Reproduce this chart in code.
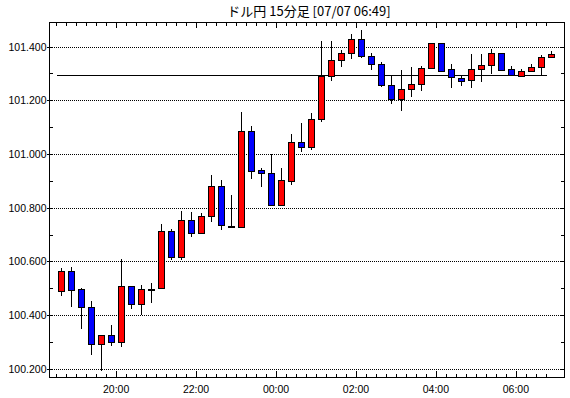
<body>
  <div id="chart"></div>
</body>

<script src="https://d3js.org/d3.v7.min.js"></script>
<script>
  // 15 minute candles, start time of each bar
  const times = [
    "18:30", "18:45", "19:00", "19:15", "19:30", "19:45", "20:00", "20:15", "20:30", "20:45",
    "21:00", "21:15", "21:30", "21:45", "22:00", "22:15", "22:30", "22:45", "23:00", "23:15",
    "23:30", "23:45", "00:00", "00:15", "00:30", "00:45", "01:00", "01:15", "01:30", "01:45",
    "02:00", "02:15", "02:30", "02:45", "03:00", "03:15", "03:30", "03:45", "04:00", "04:15",
    "04:30", "04:45", "05:00", "05:15", "05:30", "05:45", "06:00", "06:15", "06:30", "06:45"
  ];
  const open = [
    100.487, 100.563, 100.496, 100.429, 100.291, 100.324, 100.298, 100.507, 100.440, 100.498,
    100.499, 100.712, 100.614, 100.753, 100.703, 100.768, 100.879, 100.732, 100.731, 101.087,
    100.941, 100.931, 100.809, 100.900, 101.045, 101.027, 101.131, 101.291, 101.350, 101.376,
    101.429, 101.365, 101.336, 101.257, 101.205, 101.243, 101.263, 101.321, 101.415, 101.315,
    101.285, 101.274, 101.319, 101.333, 101.378, 101.315, 101.293, 101.310, 101.326, 101.363
  ];
  const high = [
    100.575, 100.579, 100.499, 100.452, 100.325, 100.363, 100.609, 100.509, 100.511, 100.518,
    100.739, 100.720, 100.788, 100.784, 100.779, 100.921, 100.903, 100.847, 101.155, 101.103,
    100.946, 100.999, 100.947, 101.073, 101.117, 101.151, 101.422, 101.422, 101.389, 101.447,
    101.462, 101.378, 101.343, 101.291, 101.313, 101.326, 101.327, 101.415, 101.415, 101.335,
    101.290, 101.372, 101.372, 101.390, 101.378, 101.327, 101.315, 101.335, 101.368, 101.383
  ];
  const low = [
    100.471, 100.429, 100.349, 100.252, 100.193, 100.286, 100.282, 100.424, 100.399, 100.443,
    100.499, 100.606, 100.606, 100.692, 100.703, 100.748, 100.718, 100.730, 100.731, 100.908,
    100.878, 100.809, 100.809, 100.884, 101.007, 101.016, 101.119, 101.271, 101.323, 101.353,
    101.358, 101.312, 101.249, 101.185, 101.159, 101.212, 101.236, 101.315, 101.309, 101.247,
    101.254, 101.247, 101.269, 101.299, 101.310, 101.293, 101.293, 101.310, 101.293, 101.358
  ];
  const close = [
    100.563, 100.494, 100.429, 100.291, 100.324, 100.298, 100.507, 100.440, 100.496, 100.498,
    100.712, 100.614, 100.753, 100.703, 100.768, 100.879, 100.733, 100.732, 101.087, 100.939,
    100.931, 100.812, 100.902, 101.045, 101.027, 101.131, 101.291, 101.350, 101.376, 101.429,
    101.365, 101.336, 101.257, 101.205, 101.243, 101.261, 101.322, 101.415, 101.312, 101.285,
    101.274, 101.315, 101.333, 101.378, 101.314, 101.293, 101.311, 101.326, 101.363, 101.374
  ];
  const yTickValues = [100.2, 100.4, 100.6, 100.8, 101.0, 101.2, 101.4];
  const xTickLabels = ["20:00", "22:00", "00:00", "02:00", "04:00", "06:00"];
  const refLevel = 101.293;
  const title = "ドル円 15分足 [07/07 06:49]";

  const width = 570;
  const height = 398;
  const margin = { top: 22.5, right: 5.5, bottom: 21, left: 49.5 };

  // times after midnight belong to the next day
  const toDate = s => {
    const [h, m] = s.split(":").map(Number);
    return new Date(2014, 6, h < 12 ? 7 : 6, h, m);
  };

  const candles = times.map((t, i) => ({
    start: toDate(t),
    mid: d3.timeMinute.offset(toDate(t), 7.5),
    o: open[i],
    h: high[i],
    l: low[i],
    c: close[i]
  }));

  const x = d3
    .scaleTime()
    .domain([new Date(2014, 6, 6, 18, 20), new Date(2014, 6, 7, 7, 13)])
    .range([margin.left, width - margin.right]);
  const y = d3
    .scaleLinear()
    .domain([100.169, 101.49])
    .range([height - margin.bottom, margin.top]);

  const svg = d3
    .select("#chart")
    .append("svg")
    .attr("width", width)
    .attr("height", height)
    .attr("shape-rendering", "crispEdges");

  svg
    .append("text")
    .attr("x", 309)
    .attr("y", 16)
    .attr("text-anchor", "middle")
    .attr("class", "title")
    .text(title);

  const pLeft = margin.left;
  const pRight = width - margin.right;
  const pTop = margin.top;
  const pBottom = height - margin.bottom;
  const py = d => Math.round(y(d)) + 0.5;

  // dotted grid
  svg
    .append("g")
    .selectAll("line")
    .data(yTickValues)
    .join("line")
    .attr("x1", pLeft)
    .attr("x2", pRight)
    .attr("y1", py)
    .attr("y2", py)
    .attr("stroke", "#000")
    .attr("stroke-dasharray", "1,1");

  // y labels + ticks
  const yAxis = svg.append("g").attr("class", "axis");
  yAxis
    .selectAll("text")
    .data(yTickValues)
    .join("text")
    .attr("x", pLeft - 3)
    .attr("y", d => Math.round(y(d)) + 4)
    .attr("text-anchor", "end")
    .text(d3.format(".3f"));
  yAxis
    .selectAll("line.out")
    .data(yTickValues)
    .join("line")
    .attr("class", "out")
    .attr("x1", pLeft - 3)
    .attr("x2", pLeft)
    .attr("y1", py)
    .attr("y2", py)
    .attr("stroke", "#000");

  const yMinor = d3.range(100.2, 101.45, 0.1);
  yAxis
    .selectAll("line.minor")
    .data(yMinor)
    .join("line")
    .attr("class", "minor")
    .attr("x1", pRight - 4)
    .attr("x2", pRight)
    .attr("y1", py)
    .attr("y2", py)
    .attr("stroke", "#000");
  yAxis
    .selectAll("line.lminor")
    .data(yMinor)
    .join("line")
    .attr("class", "lminor")
    .attr("x1", pLeft)
    .attr("x2", pLeft + 3)
    .attr("y1", py)
    .attr("y2", py)
    .attr("stroke", "#000");

  // x ticks every 15 min, long ones every 2 hours
  const xTicks = d3.timeMinute.every(15).range(toDate("18:30"), d3.timeMinute.offset(toDate("06:45"), 1));
  const isMajor = d => d.getMinutes() === 0 && d.getHours() % 2 === 0;
  const px = d => Math.round(x(d)) + 0.5;
  const xAxis = svg.append("g");
  xAxis
    .selectAll("line.top")
    .data(xTicks)
    .join("line")
    .attr("class", "top")
    .attr("x1", px)
    .attr("x2", px)
    .attr("y1", pTop)
    .attr("y2", d => pTop + (isMajor(d) ? 5 : 3))
    .attr("stroke", "#000");
  xAxis
    .selectAll("line.bot")
    .data(xTicks)
    .join("line")
    .attr("class", "bot")
    .attr("x1", px)
    .attr("x2", px)
    .attr("y1", pBottom)
    .attr("y2", d => pBottom - (isMajor(d) ? 6 : 3))
    .attr("stroke", "#000");
  xAxis
    .selectAll("text")
    .data(xTickLabels)
    .join("text")
    .attr("class", "axis")
    .attr("x", d => x(toDate(d)))
    .attr("y", pBottom + 16)
    .attr("text-anchor", "middle")
    .text(d => d);

  // reference level
  svg
    .append("line")
    .attr("x1", px(candles[0].start))
    .attr("x2", px(candles[candles.length - 1].start))
    .attr("y1", py(refLevel))
    .attr("y2", py(refLevel))
    .attr("stroke", "#000");

  // candles
  const g = svg
    .append("g")
    .selectAll("g")
    .data(candles)
    .join("g")
    .attr("transform", d => `translate(${px(d.mid)},0)`);

  g.append("line")
    .attr("y1", d => y(d.h))
    .attr("y2", d => y(d.l))
    .attr("stroke", "#000");

  g.append("rect")
    .attr("x", -3)
    .attr("width", 6)
    .attr("y", d => py(Math.max(d.o, d.c)))
    .attr("height", d => Math.max(1, Math.round(Math.abs(y(d.o) - y(d.c)))))
    .attr("fill", d => (d.c > d.o ? "#ff0000" : d.c < d.o ? "#0000ff" : "#000"))
    .attr("stroke", "#000");

  // frame
  svg
    .append("rect")
    .attr("x", pLeft)
    .attr("y", pTop)
    .attr("width", pRight - pLeft)
    .attr("height", pBottom - pTop)
    .attr("fill", "none")
    .attr("stroke", "#000");
</script>

<style>
  body {
    margin: 0;
    background: #fff;
  }
  svg {
    display: block;
  }
  .title {
    font-family: "Noto Sans CJK JP", sans-serif;
    font-size: 13px;
  }
  .axis text,
  text.axis {
    font-family: "Liberation Sans", sans-serif;
    font-size: 10.5px;
  }
</style>
